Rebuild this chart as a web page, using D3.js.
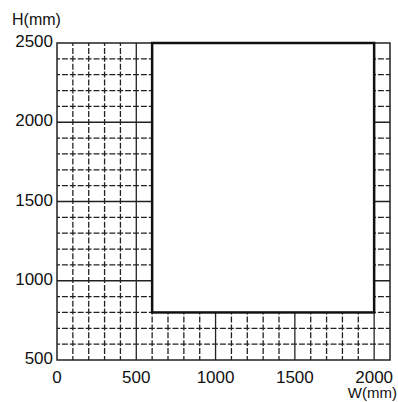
<!DOCTYPE html>
<html>
<head>
<meta charset="utf-8">
<script src="https://cdn.jsdelivr.net/npm/d3@7"></script>
<style>
body { margin: 0; background: #fff; }
text { font-family: "Liberation Sans", Arial, sans-serif; fill: #111; }
</style>
</head>
<body>
<div id="chart"></div>
<script>
const xDomain = [0, 2100];
const yDomain = [500, 2500];
const xTicks = [0, 500, 1000, 1500, 2000];
const yTicks = [500, 1000, 1500, 2000, 2500];
const gridStep = 100;
const majorStep = 500;
const regionW = [600, 2000];
const regionH = [800, 2500];

const margin = { top: 43, right: 8, bottom: 42, left: 57 };
const width = 398 - margin.left - margin.right;
const height = 402 - margin.top - margin.bottom;

const svg = d3.select('#chart')
    .append('svg')
    .attr('width', 398)
    .attr('height', 402)
    .append('g')
    .attr('transform', `translate(${margin.left},${margin.top})`);

const x = d3.scaleLinear().domain(xDomain).range([0, width]);
const y = d3.scaleLinear().domain(yDomain).range([height, 0]);

const xGrid = d3.range(xDomain[0] + gridStep, xDomain[1], gridStep);
const yGrid = d3.range(yDomain[0] + gridStep, yDomain[1], gridStep);

// dashed minor grid, solid every 500
svg.selectAll('.vgrid')
    .data(xGrid)
    .enter()
    .append('line')
    .attr('x1', d => x(d)).attr('x2', d => x(d))
    .attr('y1', 0).attr('y2', height)
    .attr('stroke', '#222')
    .attr('stroke-width', 1.3)
    .attr('stroke-dasharray', d => d % majorStep === 0 ? null : '6,1.9')
    .attr('stroke-dashoffset', 3);

svg.selectAll('.hgrid')
    .data(yGrid)
    .enter()
    .append('line')
    .attr('x1', 0).attr('x2', width)
    .attr('y1', d => y(d)).attr('y2', d => y(d))
    .attr('stroke', '#222')
    .attr('stroke-width', 1.3)
    .attr('stroke-dasharray', d => d % majorStep === 0 ? null : '6,1.9')
    .attr('stroke-dashoffset', 3);

svg.append('rect')
    .attr('width', width)
    .attr('height', height)
    .attr('fill', 'none')
    .attr('stroke', '#222')
    .attr('stroke-width', 1.5);

svg.append('rect')
    .attr('x', x(regionW[0]))
    .attr('y', y(regionH[1]))
    .attr('width', x(regionW[1]) - x(regionW[0]))
    .attr('height', y(regionH[0]) - y(regionH[1]))
    .attr('fill', '#fff')
    .attr('stroke', '#111')
    .attr('stroke-width', 2.5);

svg.selectAll('.xlab')
    .data(xTicks)
    .enter()
    .append('text')
    .attr('x', d => x(d))
    .attr('y', height + 23)
    .attr('text-anchor', 'middle')
    .attr('font-size', 17)
    .text(d => d);

svg.selectAll('.ylab')
    .data(yTicks)
    .enter()
    .append('text')
    .attr('x', -4)
    .attr('y', d => y(d) + 4)
    .attr('text-anchor', 'end')
    .attr('font-size', 17)
    .text(d => d);

svg.append('text')
    .attr('x', width + 7)
    .attr('y', height + 38)
    .attr('text-anchor', 'end')
    .attr('font-size', 15)
    .text('W(mm)');

svg.append('text')
    .attr('x', -45)
    .attr('y', -18)
    .attr('font-size', 16)
    .text('H(mm)');
</script>
</body>
</html>
